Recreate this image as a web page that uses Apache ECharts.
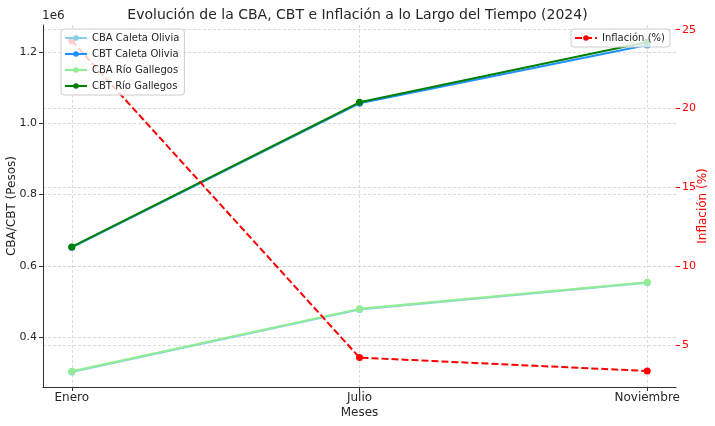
<!DOCTYPE html>
<html>
<head>
<meta charset="utf-8">
<script src="https://cdn.jsdelivr.net/npm/echarts@6/dist/echarts.min.js"></script>
<style>
  body { margin: 0; background: #fff; }
  #chart { width: 715px; height: 426px; }
</style>
</head>
<body>
<div id="chart"></div>
<script>
  // datos
  let meses = ['Enero', 'Julio', 'Noviembre'];
  let cbaCaletaOlivia = [302000, 477000, 552000];
  let cbtCaletaOlivia = [652000, 1056000, 1220000];
  let cbaRioGallegos = [304000, 479000, 554000];
  let cbtRioGallegos = [653000, 1059000, 1228000];
  let inflacion = [24.3, 4.2, 3.35];
  let pesosTicks = [400000, 600000, 800000, 1000000, 1200000];
  let inflacionTicks = [5, 10, 15, 20, 25];

  let font = 'DejaVu Sans';
  let textColor = '#262626';
  let gridLine = { show: true, lineStyle: { color: '#d0d0d0', type: [3, 2], width: 0.8 } };

  function toPairs(arr) {
    return arr.map(function (v, i) { return [i, v]; });
  }

  function lineSerie(name, data, color, yIndex, dashed) {
    return {
      name: name,
      type: 'line',
      yAxisIndex: yIndex,
      data: toPairs(data),
      symbol: 'circle',
      symbolSize: 7,
      showSymbol: true,
      lineStyle: { color: color, width: 2, type: dashed ? [7, 3] : 'solid' },
      itemStyle: { color: color },
      emphasis: { disabled: true },
      animation: false
    };
  }

  let legendBox = {
    itemWidth: 22,
    itemHeight: 7,
    backgroundColor: 'rgba(255,255,255,0.8)',
    borderColor: '#cccccc',
    borderWidth: 1,
    borderRadius: 3
  };

  let chart = echarts.init(document.getElementById('chart'));
  let option = {
    backgroundColor: '#fff',
    textStyle: { fontFamily: font },
    title: {
      text: 'Evolución de la CBA, CBT e Inflación a lo Largo del Tiempo (2024)',
      left: 'center',
      top: 3,
      textStyle: { fontFamily: font, fontSize: 14, fontWeight: 'normal', color: textColor }
    },
    graphic: [{
      type: 'text',
      left: 42,
      top: 10,
      style: { text: '1e6', font: '12px "DejaVu Sans"', fill: textColor }
    }],
    grid: { left: 43, right: 39, top: 25, bottom: 39, outerBoundsMode: 'none' },
    legend: [Object.assign({
      data: ['CBA Caleta Olivia', 'CBT Caleta Olivia', 'CBA Río Gallegos', 'CBT Río Gallegos'],
      orient: 'vertical',
      left: 61,
      top: 29,
      itemGap: 4,
      padding: [3, 5, 3, 3],
      textStyle: { fontFamily: font, fontSize: 10, color: textColor, lineHeight: 12 }
    }, legendBox), Object.assign({
      data: ['Inflación (%)'],
      left: 571,
      top: 29,
      padding: [3, 5, 3, 3],
      textStyle: { fontFamily: font, fontSize: 10, color: textColor, lineHeight: 12 }
    }, legendBox)],
    xAxis: {
      type: 'value',
      min: -0.1,
      max: 2.1,
      name: 'Meses',
      nameLocation: 'middle',
      nameGap: 20,
      nameMoveOverlap: false,
      nameTextStyle: { fontFamily: font, fontSize: 12, color: textColor },
      axisLine: { show: true, onZero: false, lineStyle: { color: '#333', width: 1 } },
      axisTick: { show: true, length: 4, customValues: [0, 1, 2], lineStyle: { color: '#333' } },
      axisLabel: {
        customValues: [0, 1, 2],
        formatter: function (v) { return meses[Math.round(v)]; },
        fontFamily: font, fontSize: 12, color: textColor, margin: 5
      },
      splitLine: gridLine
    },
    yAxis: [{
      type: 'value',
      min: 259600,
      max: 1276000,
      name: 'CBA/CBT (Pesos)',
      nameLocation: 'middle',
      nameGap: 25,
      nameMoveOverlap: false,
      nameTextStyle: { fontFamily: font, fontSize: 12, color: textColor },
      axisLine: { show: true, onZero: false, lineStyle: { color: '#333', width: 1 } },
      axisTick: { show: true, length: 4, customValues: pesosTicks, lineStyle: { color: '#333' } },
      axisLabel: {
        customValues: pesosTicks,
        formatter: function (v) { return (v / 1e6).toFixed(1); },
        fontFamily: font, fontSize: 11, color: textColor, margin: 6
      },
      splitLine: gridLine
    }, {
      type: 'value',
      min: 2.335,
      max: 25.3,
      position: 'right',
      name: 'Inflación (%)',
      nameLocation: 'middle',
      nameGap: 21,
      nameRotate: 90,
      nameMoveOverlap: false,
      nameTextStyle: { fontFamily: font, fontSize: 12, color: '#ff0000' },
      axisLine: { show: false, onZero: false },
      axisTick: { show: true, length: 4, customValues: inflacionTicks, lineStyle: { color: '#ff0000' } },
      axisLabel: {
        customValues: inflacionTicks,
        fontFamily: font, fontSize: 11, color: '#ff0000', margin: 6
      },
      splitLine: gridLine
    }],
    series: [
      lineSerie('CBA Caleta Olivia', cbaCaletaOlivia, '#87ceeb', 0, false),
      lineSerie('CBT Caleta Olivia', cbtCaletaOlivia, '#1e90ff', 0, false),
      lineSerie('CBA Río Gallegos', cbaRioGallegos, '#90ee90', 0, false),
      lineSerie('CBT Río Gallegos', cbtRioGallegos, '#008000', 0, false),
      lineSerie('Inflación (%)', inflacion, '#ff0000', 1, true)
    ]
  };
  chart.setOption(option);
  window.addEventListener('resize', function () {
    chart.resize();
  });
</script>
</body>
</html>
